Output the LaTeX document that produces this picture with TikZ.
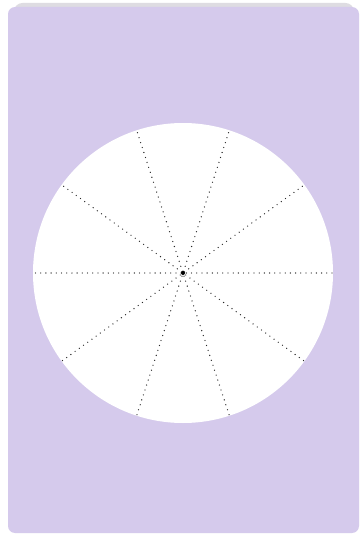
\documentclass[tikz,border=0pt]{standalone}
\usetikzlibrary{calc}
\definecolor{cardlilac}{RGB}{213,202,236}
\definecolor{cardshade}{RGB}{222,220,226}
\tikzset{radius line/.style={line width=1.9pt,line cap=round,dash pattern=on 0pt off 7.4pt,black!85}}
\begin{document}
\begin{tikzpicture}[x=0.5mm,y=-0.5mm]
\useasboundingbox (0,0) rectangle (363,541);
\fill[white] (0,0) rectangle (363,541);
\fill[cardshade,rounded corners=12] (14,3) rectangle (354,30);
\fill[cardlilac,rounded corners=10] (8,7) rectangle (359,533);
\coordinate (O) at (183,273);
\fill[white] (O) circle (150);
\foreach \a in {0,36,72,108,144}{\draw[radius line] ($(O)+(\a:149)$) -- ($(O)+(\a+180:149)$);}
\fill[black] (O) circle (2);
\end{tikzpicture}
\end{document}
